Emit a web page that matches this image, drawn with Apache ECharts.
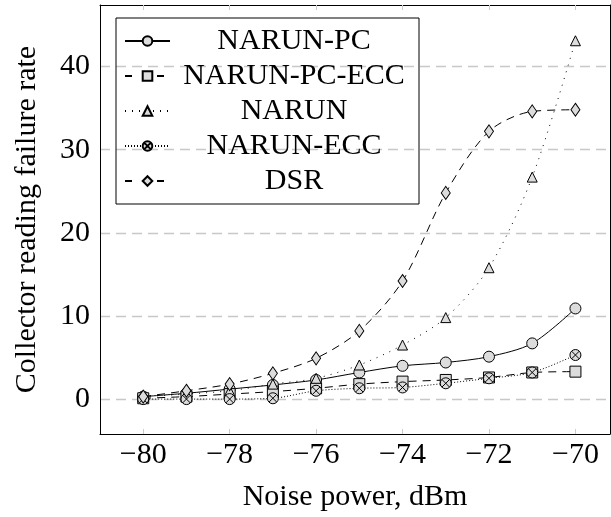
<!DOCTYPE html>
<html>
<head>
<meta charset="utf-8">
<script src="https://cdn.jsdelivr.net/npm/echarts@6/dist/echarts.min.js"></script>
<style>
html, body { margin: 0; padding: 0; background: #fff; }
#chart { width: 611px; height: 517px; }
</style>
</head>
<body>
<div id="chart"></div>
<script>
// noise power (dBm)
var noise = [-80, -79, -78, -77, -76, -75, -74, -73, -72, -71, -70];
// failure rate per scheme
var narunPc    = [0.3, 0.7, 1.2, 1.7, 2.3, 3.2, 4.0, 4.4, 5.1, 6.7, 10.9];
var narunPcEcc = [0.1, 0.3, 0.6, 0.9, 1.3, 1.8, 2.1, 2.3, 2.6, 3.2, 3.3];
var narun      = [0.3, 0.6, 1.0, 1.8, 2.5, 4.1, 6.5, 9.8, 15.8, 26.7, 43.1];
var narunEcc   = [0.0, 0.0, 0.0, 0.1, 1.0, 1.3, 1.4, 1.9, 2.5, 3.2, 5.3];
var dsr        = [0.3, 1.0, 1.8, 3.1, 4.9, 8.2, 14.2, 24.8, 32.2, 34.6, 34.8];
// tick values
var xTicks = [-80, -78, -76, -74, -72, -70];
var yTicks = [0, 10, 20, 30, 40];

var FONT = 'Liberation Serif';
var FILL = '#dcdcdc';
// circle with a cross (otimes)
var OTIMES = 'path://M0,10 A10,10 0 1,1 20,10 A10,10 0 1,1 0,10 Z M2.93,2.93 L17.07,17.07 M17.07,2.93 L2.93,17.07';

function pairs(ys) {
    return noise.map(function (x, i) { return [x, ys[i]]; });
}

function mk(name, ys, lineType, symbol, size) {
    return {
        name: name,
        type: 'line',
        data: pairs(ys),
        smooth: 0.3,
        symbol: symbol,
        symbolSize: size,
        showAllSymbol: true,
        lineStyle: { color: '#000', width: 1, type: lineType },
        itemStyle: { color: FILL, borderColor: '#000', borderWidth: 1 },
        emphasis: { disabled: true },
        animation: false
    };
}

var chart = echarts.init(document.getElementById('chart'));
chart.setOption({
    animation: false,
    grid: { left: 100, right: 1, top: 5, bottom: 82 },
    legend: {
        orient: 'vertical',
        left: 116,
        top: 18,
        padding: [8, 6, 8, 8],
        borderColor: '#000',
        borderWidth: 1,
        itemWidth: 45,
        itemHeight: 12,
        itemGap: 5,
        formatter: function (n) { return '{c|' + n + '}'; },
        textStyle: {
            fontFamily: FONT,
            fontSize: 30,
            color: '#000',
            rich: { c: { width: 238, align: 'center', fontFamily: FONT, fontSize: 30, lineHeight: 30 } }
        },
        data: [
            'NARUN-PC',
            { name: 'NARUN-PC-ECC', lineStyle: { type: [7, 25] } },
            'NARUN',
            'NARUN-ECC',
            { name: 'DSR', lineStyle: { type: [7, 25] } }
        ]
    },
    xAxis: [{
        type: 'value',
        min: -81,
        max: -69.2,
        name: 'Noise power, dBm',
        nameLocation: 'middle',
        nameGap: 48,
        nameTextStyle: { fontFamily: FONT, fontSize: 30, color: '#000' },
        axisLine: { show: true, onZero: false, lineStyle: { color: '#000', width: 1 } },
        axisTick: { show: true, inside: true, length: 5, customValues: xTicks, lineStyle: { color: '#ccc' } },
        axisLabel: {
            margin: 6,
            customValues: xTicks,
            fontFamily: FONT, fontSize: 30, color: '#000',
            formatter: function (v) { return '\u2212' + Math.abs(v); }
        },
        splitLine: { show: false }
    }, {
        type: 'value',
        position: 'top',
        min: -81,
        max: -69.2,
        axisLine: { show: true, onZero: false, lineStyle: { color: '#000', width: 1 } },
        axisTick: { show: true, inside: true, length: 5, customValues: xTicks, lineStyle: { color: '#ccc' } },
        axisLabel: { show: false },
        splitLine: { show: false }
    }],
    yAxis: [{
        type: 'value',
        min: -4.2,
        max: 47.4,
        name: 'Collector reading failure rate',
        nameLocation: 'middle',
        nameGap: 58,
        nameTextStyle: { fontFamily: FONT, fontSize: 30, color: '#000' },
        axisLine: { show: true, onZero: false, lineStyle: { color: '#000', width: 1 } },
        axisTick: { show: false, customValues: yTicks },
        axisLabel: {
            margin: 10,
            customValues: yTicks,
            fontFamily: FONT, fontSize: 30, color: '#000'
        },
        splitLine: { show: true, lineStyle: { color: '#c8c8c8', width: 1.3, type: [10, 6] } }
    }, {
        type: 'value',
        position: 'right',
        min: -4.2,
        max: 47.4,
        axisLine: { show: true, onZero: false, lineStyle: { color: '#000', width: 1 } },
        axisTick: { show: false },
        axisLabel: { show: false },
        splitLine: { show: false }
    }],
    series: [
        mk('NARUN-PC', narunPc, 'solid', 'circle', 11),
        mk('NARUN-PC-ECC', narunPcEcc, [8, 6], 'rect', 11),
        mk('NARUN', narun, [1, 6], 'triangle', 10),
        mk('NARUN-ECC', narunEcc, [1, 2], OTIMES, 11),
        mk('DSR', dsr, [8, 6], 'diamond', [9, 13])
    ]
});
</script>
</body>
</html>
